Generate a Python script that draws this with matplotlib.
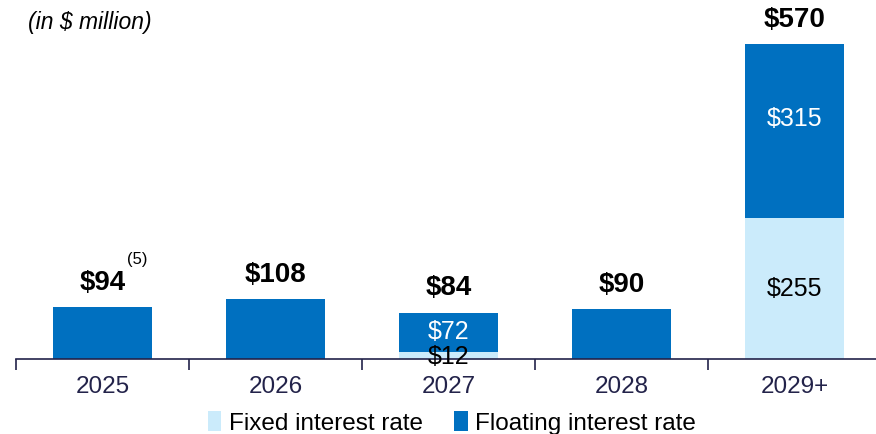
import numpy as np
import matplotlib.pyplot as plt

plt.rcParams['font.family'] = ['Liberation Sans', 'DejaVu Sans']

years = ['2025', '2026', '2027', '2028', '2029+']
fixed = [0, 0, 12, 0, 255]
floating = [94, 108, 72, 90, 315]
totals = [94, 108, 84, 90, 570]

fixed_color = '#CBEBFB'
float_color = '#0070C0'
navy = '#23234a'

fig = plt.figure(figsize=(8.76, 4.34), dpi=100)
ax = fig.add_axes([16 / 876, 75 / 434, 860 / 876, 359 / 434])

x = np.arange(len(years))
w = 0.57
ax.bar(x, fixed, w, color=fixed_color, label='Fixed interest rate', zorder=2)
ax.bar(x, floating, w, bottom=fixed, color=float_color,
       label='Floating interest rate', zorder=2)

ax.set_xlim(-0.5, 4.47)
ax.set_ylim(0, 650)

for s in ['top', 'right', 'left']:
    ax.spines[s].set_visible(False)
ax.spines['bottom'].set_color(navy)
ax.spines['bottom'].set_linewidth(1.2)
ax.set_yticks([])

ax.set_xticks(x)
ax.set_xticklabels(years, fontsize=17.5, color=navy)
ax.tick_params(axis='x', which='major', length=0, pad=12)
ax.set_xticks(np.arange(-0.5, 4.5, 1), minor=True)
ax.tick_params(axis='x', which='minor', length=8, width=1.2, color=navy)

# totals above each bar
for i, t in enumerate(totals):
    ax.annotate(f'${t}', (x[i], t), xytext=(0, 8), textcoords='offset points',
                ha='center', va='bottom', fontsize=20, fontweight='bold')
ax.annotate('(5)', (x[0], totals[0]), xytext=(25, 34), textcoords='offset points',
            ha='center', va='center', fontsize=12)

# segment values
for i in range(len(years)):
    if fixed[i] and floating[i]:
        if i == 4:
            yf, yx = fixed[i] + floating[i] / 2 + 22, fixed[i] / 2
        else:
            yf, yx = fixed[i] + floating[i] / 2, fixed[i] / 2 - 3
        ax.text(x[i], yf, f'${floating[i]}', ha='center', va='center',
                fontsize=18, color='white', zorder=3)
        ax.text(x[i], yx, f'${fixed[i]}', ha='center', va='center',
                fontsize=18, color='black', zorder=3, clip_on=False)

fig.text(28 / 876, 1 - 22 / 434, '(in $ million)', fontsize=16.5, style='italic',
         ha='left', va='center')

fig.legend(loc='center', bbox_to_anchor=(452 / 876, 1 - 423 / 434), ncol=2,
           frameon=False, fontsize=17.5, handlelength=0.55, handleheight=0.9,
           handletextpad=0.3, columnspacing=1.3)

fig.savefig('out.png', dpi=100)
